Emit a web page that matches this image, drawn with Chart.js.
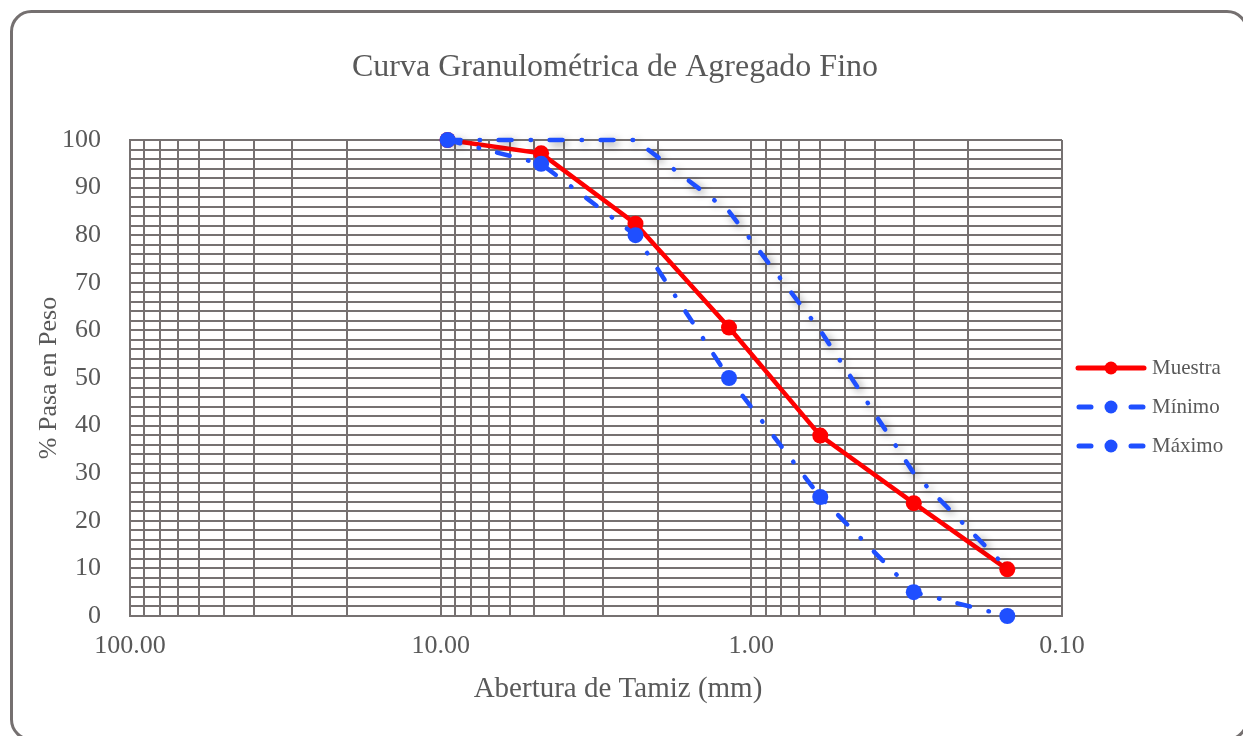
<!DOCTYPE html>
<html>
<head>
<meta charset="utf-8">
<script src="https://cdn.jsdelivr.net/npm/chart.js@4"></script>
<style>
  html, body { margin: 0; padding: 0; background: #fff; }
  #wrap { width: 1243px; height: 736px; }
</style>
</head>
<body>
<div id="wrap"><canvas id="grafico" width="1243" height="736"></canvas></div>
<script>
// Datos del ensayo (abertura en mm, % que pasa)
const aberturas = [9.5, 4.75, 2.36, 1.18, 0.6, 0.3, 0.15];
const muestra = [100, 97.2, 82.4, 60.6, 37.9, 23.7, 9.8];
const minimo = [100, 95, 80, 50, 25, 5, 0];
const maximo = [100, 100, 100, 85, 60, 30, 10];
const decadas = [-1, 0, 1];          // exponentes de la escala logaritmica
const etiquetasX = [100, 10, 1, 0.1];

const GRIS_TEXTO = "#595959";
const GRIS_GRILLA = "#767171";
const ROJO = "#ff0000";
const AZUL = "#1f4fff";
const FUENTE = "'Liberation Serif', 'Times New Roman', serif";

function puntos(valores) {
  return aberturas.map((a, i) => ({ x: a, y: valores[i] }));
}

// sombra gris de la curva de maximos
const sombra = {
  id: "sombra",
  beforeDatasetDraw(chart, args) {
    if (args.index !== 2) return;
    const ctx = chart.ctx;
    ctx.save();
    ctx.shadowColor = "rgba(0,0,0,0.45)";
    ctx.shadowBlur = 9;
    ctx.shadowOffsetX = 3;
    ctx.shadowOffsetY = 3;
  },
  afterDatasetDraw(chart, args) {
    if (args.index === 2) chart.ctx.restore();
  }
};

// marco redondeado, titulos y leyenda
const marco = {
  id: "marco",
  beforeDraw(chart) {
    const ctx = chart.ctx;
    ctx.save();
    ctx.fillStyle = "#fff";
    ctx.fillRect(0, 0, chart.width, chart.height);
    ctx.strokeStyle = "#757070";
    ctx.lineWidth = 3;
    ctx.beginPath();
    ctx.roundRect(11.5, 11.5, 1235.5, 728, 20);
    ctx.stroke();
    ctx.restore();
  },
  afterDraw(chart) {
    const ctx = chart.ctx;
    ctx.save();
    ctx.fillStyle = GRIS_TEXTO;
    ctx.textAlign = "center";
    ctx.textBaseline = "middle";
    ctx.font = "32px " + FUENTE;
    ctx.fillText("Curva Granulométrica de Agregado Fino", 615, 68);
    ctx.font = "29px " + FUENTE;
    ctx.fillText("Abertura de Tamiz (mm)", 618, 689);

    // leyenda
    const filas = [368, 407, 446];
    chart.data.datasets.forEach((ds, i) => {
      const y = filas[i];
      ctx.strokeStyle = ds.borderColor;
      ctx.lineWidth = 5;
      ctx.lineCap = "round";
      ctx.beginPath();
      if (ds.borderDash.length === 0) {
        ctx.moveTo(1078, y); ctx.lineTo(1144, y);
      } else {
        ctx.moveTo(1079, y); ctx.lineTo(1091, y);
        ctx.moveTo(1131, y); ctx.lineTo(1143, y);
      }
      ctx.stroke();
      ctx.fillStyle = ds.borderColor;
      ctx.beginPath();
      ctx.arc(1111, y, 6.5, 0, Math.PI * 2);
      ctx.fill();
      ctx.fillStyle = GRIS_TEXTO;
      ctx.font = "21px " + FUENTE;
      ctx.textAlign = "left";
      ctx.fillText(ds.label, 1152, y);
    });
    ctx.restore();
  }
};

const guion = [13, 19, 0.5, 18.5];

new Chart(document.getElementById("grafico"), {
  type: "line",
  data: {
    datasets: [
      {
        label: "Muestra",
        data: puntos(muestra),
        borderColor: ROJO,
        backgroundColor: ROJO,
        borderWidth: 4.5,
        borderDash: [],
        pointRadius: 8,
        pointBorderWidth: 0,
        order: 3,
        clip: false
      },
      {
        label: "Mínimo",
        data: puntos(minimo),
        borderColor: AZUL,
        backgroundColor: AZUL,
        borderWidth: 4.5,
        borderDash: guion,
        borderCapStyle: "round",
        pointRadius: 8,
        pointBorderWidth: 0,
        order: 1,
        clip: false
      },
      {
        label: "Máximo",
        data: puntos(maximo),
        borderColor: AZUL,
        backgroundColor: AZUL,
        borderWidth: 4.5,
        borderDash: guion,
        borderCapStyle: "round",
        pointRadius: 0,
        order: 2,
        clip: false
      }
    ]
  },
  options: {
    responsive: false,
    animation: false,
    layout: { padding: { left: 20, top: 140, right: 181, bottom: 20 } },
    plugins: {
      legend: { display: false },
      title: { display: false },
      tooltip: { enabled: false }
    },
    scales: {
      x: {
        type: "logarithmic",
        reverse: true,
        min: 0.1,
        max: 100,
        afterBuildTicks(scale) {
          const t = [];
          for (const e of decadas) {
            for (let s = 1; s <= 9; s++) {
              t.push({ value: Math.round(s * Math.pow(10, e) * 10) / 10 });
            }
          }
          t.push({ value: 100 });
          scale.ticks = t;
        },
        afterFit(scale) { scale.height = 100; },
        grid: { color: GRIS_GRILLA, lineWidth: 2, drawTicks: false },
        border: { color: GRIS_GRILLA, width: 2 },
        ticks: {
          autoSkip: false,
          maxRotation: 0,
          padding: 15,
          color: GRIS_TEXTO,
          font: { family: FUENTE, size: 26 },
          callback(v) {
            return etiquetasX.some(e => Math.abs(e - v) < 1e-9) ? v.toFixed(2) : "";
          }
        },
        title: { display: false }
      },
      y: {
        min: 0,
        max: 100,
        afterFit(scale) { scale.width = 110; },
        grid: { color: GRIS_GRILLA, lineWidth: 2, drawTicks: false },
        border: { color: GRIS_GRILLA, width: 2 },
        ticks: {
          stepSize: 2,
          autoSkip: false,
          padding: 29,
          color: GRIS_TEXTO,
          font: { family: FUENTE, size: 26 },
          callback(v) { return v % 10 === 0 ? String(v) : ""; }
        },
        title: {
          display: true,
          text: "% Pasa en Peso",
          color: GRIS_TEXTO,
          font: { family: FUENTE, size: 26 },
          padding: { top: 14, bottom: 0 }
        }
      }
    }
  },
  plugins: [sombra, marco]
});
</script>
</body>
</html>
